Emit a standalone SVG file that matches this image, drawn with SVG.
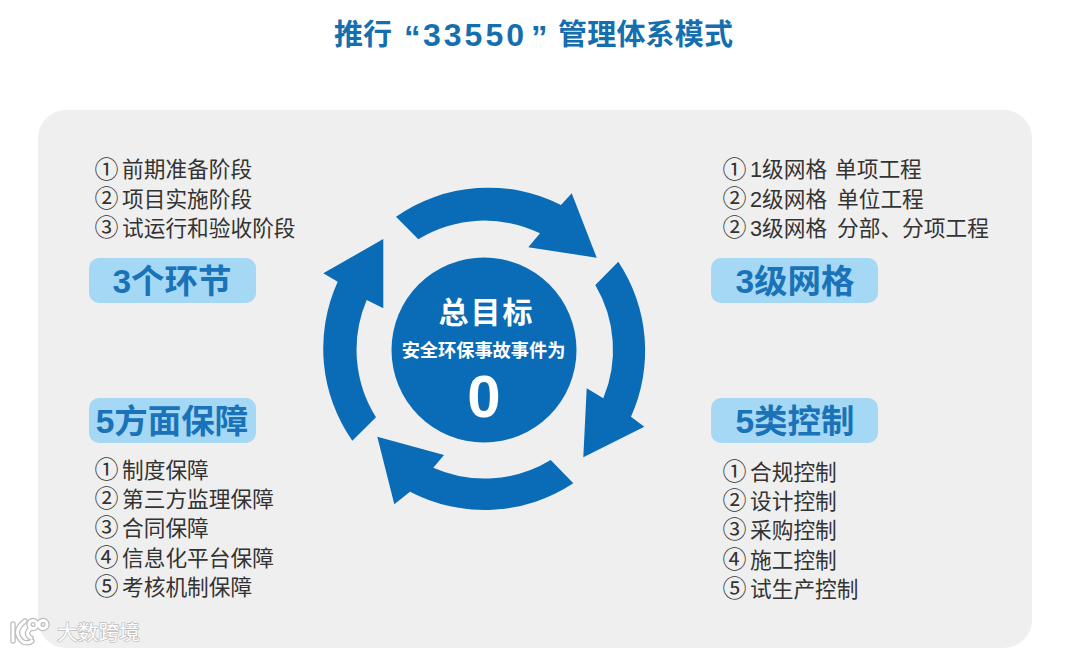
<svg xmlns="http://www.w3.org/2000/svg" width="1067" height="652" viewBox="0 0 1067 652">
<style>
text{font-family:"Liberation Sans","Noto Sans CJK SC",sans-serif}
.item{font-size:21.7px;fill:#333}
.n{font-size:24px;fill:#333}
.badge{fill:#a4d8f5}
.bt{font-size:33.5px;font-weight:700;fill:#1a72b8;text-anchor:middle}
.ar{fill:#0a6cb6}
.tt{font-weight:700;fill:#156fae;font-size:29px}
.wm{font-size:20.7px;fill:#fff;stroke:#bdbdbd;stroke-width:1.4px;paint-order:stroke}
.lg{fill:none;stroke-linecap:round}
</style>
<rect width="1067" height="652" fill="#fff"/>
<g id="title">
<text class="tt" x="334" y="45" letter-spacing="0">推行</text>
<text class="tt" x="404" y="49" style="font-size:33px">“</text>
<text class="tt" x="423" y="46" letter-spacing="3" style="font-size:32px">33550</text>
<text class="tt" x="531" y="49" style="font-size:33px">”</text>
<text class="tt" x="558" y="45" letter-spacing=".2">管理体系模式</text>
</g>
<rect id="panel" x="38" y="110" width="994" height="538" rx="28" fill="#efefef"/>
<g id="connectors">
<path class="ar" d="M396 216.7A161 161 0 0 1 561 205L571.7 193.3L596.7 257.7L528.3 247.3L540 233.3A127 127 0 0 0 418.3 239.3Z"/>
<path class="ar" d="M618.3 261.7A161 161 0 0 1 631 416.7L644.3 426.7L583.3 457.3L586.7 388.3L603.3 398.3A127 127 0 0 0 595.3 285Z"/>
<path class="ar" d="M573.3 483.3A161 161 0 0 1 410 491.7L394.3 504.3L377.3 436.7L444 455L433.3 467.7A127 127 0 0 0 550.7 460Z"/>
<path class="ar" d="M352.3 440.7A161 161 0 0 1 337.7 281.7L323.3 273.3L383.3 239L383.3 308.3L366.7 300A127 127 0 0 0 376 417.3Z"/>
</g>
<g id="center">
<circle cx="484" cy="350" r="92.5" fill="#0a6cb6"/>
<text x="486.5" y="323" text-anchor="middle" font-size="30" font-weight="700" fill="#fff" letter-spacing="2">总目标</text>
<text x="483.5" y="356.5" text-anchor="middle" font-size="18.2" font-weight="700" fill="#fff">安全环保事故事件为</text>
<text x="484" y="417" text-anchor="middle" font-size="60" font-weight="700" fill="#fff">0</text>
</g>
<g id="stages">
<text class="n" x="94.5" y="178">①</text><text class="item" x="122" y="177">前期准备阶段</text>
<text class="n" x="94.5" y="207">②</text><text class="item" x="122" y="207">项目实施阶段</text>
<text class="n" x="94.5" y="236">③</text><text class="item" x="122" y="236">试运行和验收阶段</text>
</g>
<g id="badge-stages"><rect class="badge" x="89" y="258" width="167" height="45" rx="10"/><text class="bt" x="172" y="293">3个环节</text></g>
<g id="grids">
<text class="n" x="722.5" y="178">①</text><text class="item" x="750" y="177">1级网格</text><text class="item" x="835" y="177">单项工程</text>
<text class="n" x="722.5" y="207">②</text><text class="item" x="750" y="207">2级网格</text><text class="item" x="837" y="207">单位工程</text>
<text class="n" x="722.5" y="236">②</text><text class="item" x="750" y="236">3级网格</text><text class="item" x="837" y="236">分部、分项工程</text>
</g>
<g id="badge-grids"><rect class="badge" x="711" y="258" width="167" height="45" rx="10"/><text class="bt" x="795" y="293">3级网格</text></g>
<g id="badge-guarantee"><rect class="badge" x="89" y="398" width="167" height="45" rx="10"/><text class="bt" x="172" y="433">5方面保障</text></g>
<g id="guarantee">
<text class="n" x="94.5" y="478">①</text><text class="item" x="122" y="478">制度保障</text>
<text class="n" x="94.5" y="507">②</text><text class="item" x="122" y="507">第三方监理保障</text>
<text class="n" x="94.5" y="536">③</text><text class="item" x="122" y="536">合同保障</text>
<text class="n" x="94.5" y="566">④</text><text class="item" x="122" y="566">信息化平台保障</text>
<text class="n" x="94.5" y="595">⑤</text><text class="item" x="122" y="595">考核机制保障</text>
</g>
<g id="badge-control"><rect class="badge" x="711" y="398" width="167" height="45" rx="10"/><text class="bt" x="795" y="433">5类控制</text></g>
<g id="control">
<text class="n" x="722.5" y="480">①</text><text class="item" x="750" y="480">合规控制</text>
<text class="n" x="722.5" y="509">②</text><text class="item" x="750" y="509">设计控制</text>
<text class="n" x="722.5" y="538">③</text><text class="item" x="750" y="538">采购控制</text>
<text class="n" x="722.5" y="568">④</text><text class="item" x="750" y="568">施工控制</text>
<text class="n" x="722.5" y="597">⑤</text><text class="item" x="750" y="597">试生产控制</text>
</g>
<g id="watermark">
<g class="lg" stroke="#bdbdbd" stroke-width="5.5">
<path d="M13 624V641M25 621Q11 632 23 642Q29 644 32 641M31 628Q24 634 31 638"/>
<circle cx="33" cy="624.5" r="4"/><circle cx="43" cy="624.5" r="4"/>
</g>
<g class="lg" stroke="#fff" stroke-width="3">
<path d="M13 624V641M25 621Q11 632 23 642Q29 644 32 641M31 628Q24 634 31 638"/>
<circle cx="33" cy="624.5" r="4"/><circle cx="43" cy="624.5" r="4"/>
</g>
<text class="wm" x="57" y="640">大数跨境</text>
</g>
</svg>
